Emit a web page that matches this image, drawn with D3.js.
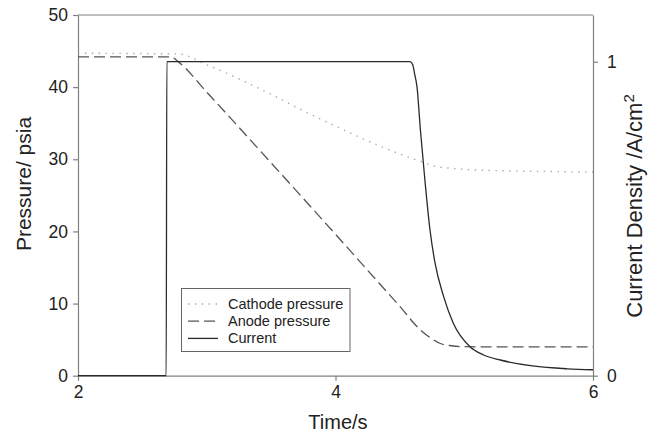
<!DOCTYPE html>
<html><head><meta charset="utf-8">
<script src="https://cdn.jsdelivr.net/npm/d3@7"></script>
<style>body{margin:0;background:#fff}svg{display:block}text{font-family:"Liberation Sans",Arial,sans-serif;fill:#222}</style>
</head><body>
<svg id="c" width="648" height="435"></svg>
<script>
const xTicks=[2,4,6];
const yLeftTicks=[0,10,20,30,40,50];
const yRightTicks=[0,1];
const cathodeT=[2.0,2.78,3.0,3.5,3.72,4.0,4.35,4.55,4.68,4.78,4.87,5.0,5.3,5.7,6.0];
const cathodeP=[44.7,44.6,43.1,39.0,37.0,34.6,31.8,30.4,29.6,29.0,28.8,28.6,28.4,28.3,28.2];
const anodeT=[2.0,2.72,2.78,3.0,3.5,4.0,4.35,4.5,4.65,4.75,4.81,4.9,4.97,5.2,6.0];
const anodeP=[44.2,44.2,43.5,39.3,29.5,19.6,12.6,9.6,6.5,5.1,4.5,4.15,4.03,4.0,4.0];
const currentT=[2.0,2.685,2.69,4.58,4.6,4.615,4.633,4.66,4.695,4.734,4.773,4.84,4.915,5.045,5.15,5.28,5.53,5.8,6.0];
const currentI=[0,0,1.0,1.0,0.99,0.96,0.92,0.78,0.62,0.464,0.359,0.252,0.167,0.092,0.066,0.050,0.031,0.022,0.019];
const legendLabels=["Cathode pressure","Anode pressure","Current"];

const svg=d3.select("#c");
const L=78,R=593,T=15,B=375.7;
const x=d3.scaleLinear().domain([2,6]).range([L,R]);
const yL=d3.scaleLinear().domain([0,50]).range([B,T]);
const yR=d3.scaleLinear().domain([0,(B-T)/(B-61.7)]).range([B,T]);
const axisCol="#808080";

svg.append("line").attr("x1",L).attr("x2",R).attr("y1",T).attr("y2",T).attr("stroke",axisCol).attr("stroke-width",1.2);

function styleAxis(g){g.select(".domain").attr("stroke",axisCol).attr("stroke-width",1.2);g.selectAll(".tick line").attr("stroke",axisCol).attr("stroke-width",1.2);g.selectAll(".tick text").attr("font-size",17.5).attr("font-family","Liberation Sans, Arial, sans-serif").attr("fill","#222");}
svg.append("g").attr("transform",`translate(0,${B})`).call(d3.axisBottom(x).tickValues(xTicks).tickSize(5).tickSizeOuter(0).tickPadding(5).tickFormat(d3.format("d"))).call(styleAxis);
svg.append("g").attr("transform",`translate(${L},0)`).call(d3.axisLeft(yL).tickValues(yLeftTicks).tickSize(5).tickSizeOuter(0).tickPadding(5).tickFormat(d3.format("d"))).call(styleAxis);
svg.append("g").attr("transform",`translate(${R},0)`).call(d3.axisRight(yR).tickValues(yRightTicks).tickSize(5).tickSizeOuter(0).tickPadding(9).tickFormat(d3.format("d"))).call(styleAxis);

const lineP=d3.line().x(d=>x(d[0])).y(d=>yL(d[1])).curve(d3.curveMonotoneX);
const lineI=d3.line().x(d=>x(d[0])).y(d=>yR(d[1])).curve(d3.curveMonotoneX);
const styles=[{c:"#a8a8a8",w:1.4,da:"1.4,5.5"},{c:"#555",w:1.3,da:"11,5"},{c:"#2a2a2a",w:1.3,da:null}];
svg.append("path").attr("d",lineP(d3.zip(cathodeT,cathodeP))).attr("fill","none").attr("stroke",styles[0].c).attr("stroke-width",styles[0].w).attr("stroke-dasharray",styles[0].da);
svg.append("path").attr("d",lineP(d3.zip(anodeT,anodeP))).attr("fill","none").attr("stroke",styles[1].c).attr("stroke-width",styles[1].w).attr("stroke-dasharray",styles[1].da);
svg.append("path").attr("d",lineI(d3.zip(currentT,currentI))).attr("fill","none").attr("stroke",styles[2].c).attr("stroke-width",styles[2].w);

const lg=svg.append("g");
lg.append("rect").attr("x",181.5).attr("y",288.5).attr("width",168.5).attr("height",63).attr("fill","#fff").attr("stroke","#666").attr("stroke-width",1);
legendLabels.forEach((t,i)=>{
  const yy=304+i*17.2;
  lg.append("line").attr("x1",188).attr("x2",218).attr("y1",yy).attr("y2",yy).attr("stroke",styles[i].c).attr("stroke-width",styles[i].w).attr("stroke-dasharray",styles[i].da);
  lg.append("text").attr("x",228).attr("y",yy+5).attr("font-size",14.5).text(t);
});

svg.append("text").attr("x",338).attr("y",429).attr("text-anchor","middle").attr("font-size",20).text("Time/s");
svg.append("text").attr("transform","translate(31,184) rotate(-90)").attr("text-anchor","middle").attr("font-size",21).text("Pressure/ psia");
const rt=svg.append("text").attr("transform","translate(642,206) rotate(-90)").attr("text-anchor","middle").attr("font-size",22);
rt.append("tspan").text("Current Density /A/cm");
rt.append("tspan").attr("dy",-8).attr("font-size",15).text("2");
</script>
</body></html>
